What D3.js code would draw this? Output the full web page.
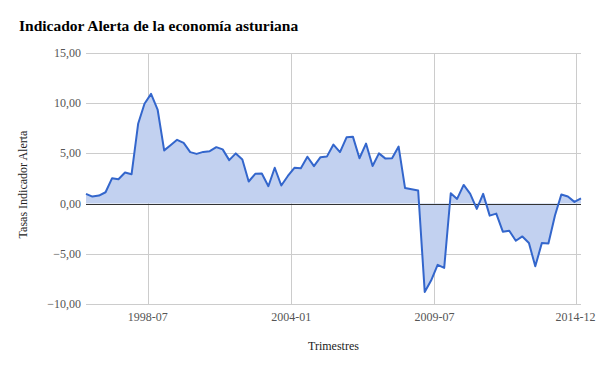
<!DOCTYPE html>
<html>
<head>
<meta charset="utf-8">
<script src="https://cdn.jsdelivr.net/npm/d3@7"></script>
<style>
  body { margin: 0; background: #fff; }
  svg { display: block; }
  text { font-family: "Liberation Serif", "Times New Roman", serif; }
</style>
</head>
<body>
<svg id="chart" width="600" height="371"></svg>
<script>
// Tasas trimestrales, primer trimestre de 1996 en adelante
const firstQuarter = new Date(1996, 1, 15);
const tasas = [
  0.97, 0.7, 0.8, 1.13, 2.53, 2.43, 3.1, 2.93, 7.95, 9.95,
  10.93, 9.37, 5.3, 5.82, 6.35, 6.04, 5.13, 4.95, 5.15, 5.22,
  5.62, 5.4, 4.33, 5.0, 4.4, 2.2, 2.97, 3.0, 1.73, 3.57,
  1.8, 2.75, 3.57, 3.53, 4.67, 3.73, 4.62, 4.68, 5.88, 5.13,
  6.6, 6.67, 4.52, 5.98, 3.75, 5.0, 4.48, 4.52, 5.68, 1.55,
  1.43, 1.3, -8.8, -7.67, -6.1, -6.4, 1.03, 0.47, 1.86, 0.97,
  -0.53, 0.97, -1.2, -1.0, -2.8, -2.7, -3.7, -3.27, -3.93, -6.25,
  -3.93, -3.97, -1.18, 0.9, 0.7, 0.17, 0.53
];
const xTickLabels = ["1998-07", "2004-01", "2009-07", "2014-12"];
const yTicks = [-10, -5, 0, 5, 10, 15];

const data = tasas.map((v, i) => ({ date: d3.timeMonth.offset(firstQuarter, 3 * i), value: v }));
const parseTick = d3.timeParse("%Y-%m");
const xTicks = xTickLabels.map(parseTick);

const svg = d3.select("#chart");
const plotLeft = 86, plotRight = 581, plotTop = 53, plotBottom = 304;

const x = d3.scaleTime()
    .domain(d3.extent(data, d => d.date))
    .range([plotLeft, plotRight]);
const y = d3.scaleLinear()
    .domain([-10, 15])
    .range([plotBottom, plotTop]);

const fmt = d3.formatLocale({ decimal: ",", thousands: ".", grouping: [3], currency: ["", "€"] }).format(".2f");

// gridlines
svg.append("g")
    .selectAll("line")
    .data(yTicks)
    .join("line")
    .attr("x1", plotLeft).attr("x2", plotRight)
    .attr("y1", d => Math.round(y(d)) + 0.5).attr("y2", d => Math.round(y(d)) + 0.5)
    .attr("stroke", "#cccccc");

svg.append("g")
    .selectAll("line")
    .data(xTicks)
    .join("line")
    .attr("x1", d => Math.round(x(d)) + 0.5).attr("x2", d => Math.round(x(d)) + 0.5)
    .attr("y1", plotTop).attr("y2", plotBottom)
    .attr("stroke", "#cccccc");

// area + line
const area = d3.area()
    .x(d => x(d.date))
    .y0(y(0))
    .y1(d => y(d.value));
const line = d3.line()
    .x(d => x(d.date))
    .y(d => y(d.value));

svg.append("path")
    .datum(data)
    .attr("d", area)
    .attr("fill", "#c2d1f0");

svg.append("line")
    .attr("x1", plotLeft).attr("x2", plotRight)
    .attr("y1", Math.round(y(0)) + 0.5).attr("y2", Math.round(y(0)) + 0.5)
    .attr("stroke", "#333333");

svg.append("path")
    .datum(data)
    .attr("d", line)
    .attr("fill", "none")
    .attr("stroke", "#3366cc")
    .attr("stroke-width", 2)
    .attr("stroke-linejoin", "round");

// axis labels
svg.append("g")
    .selectAll("text")
    .data(yTicks)
    .join("text")
    .attr("x", 81)
    .attr("y", d => y(d) + 4)
    .attr("text-anchor", "end")
    .attr("font-size", 12)
    .attr("fill", "#555")
    .text(d => fmt(d));

svg.append("g")
    .selectAll("text")
    .data(xTicks)
    .join("text")
    .attr("x", d => x(d))
    .attr("y", 321)
    .attr("text-anchor", "middle")
    .attr("font-size", 12)
    .attr("fill", "#555")
    .text((d, i) => xTickLabels[i]);

svg.append("text")
    .attr("x", (plotLeft + plotRight) / 2)
    .attr("y", 350)
    .attr("text-anchor", "middle")
    .attr("font-size", 12)
    .attr("fill", "#222")
    .text("Trimestres");

svg.append("text")
    .attr("transform", `translate(27,${(plotTop + plotBottom) / 2 + 6}) rotate(-90)`)
    .attr("text-anchor", "middle")
    .attr("font-size", 12)
    .attr("fill", "#222")
    .text("Tasas Indicador Alerta");

svg.append("text")
    .attr("x", 19)
    .attr("y", 31)
    .attr("font-size", 15.5)
    .attr("font-weight", "bold")
    .attr("fill", "#000")
    .text("Indicador Alerta de la economía asturiana");
</script>
</body>
</html>
